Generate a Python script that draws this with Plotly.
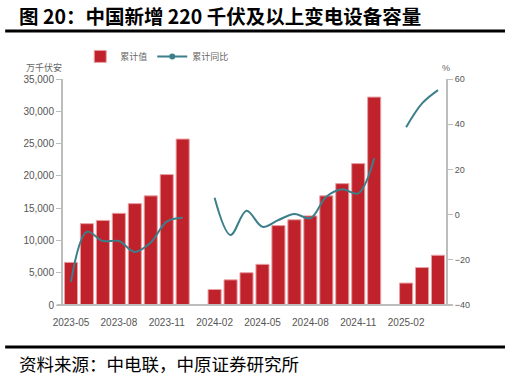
import plotly.graph_objects as go

months = ["2023-05","2023-06","2023-07","2023-08","2023-09","2023-10","2023-11","2023-12",
          "2024-01","2024-02","2024-03","2024-04","2024-05","2024-06","2024-07","2024-08",
          "2024-09","2024-10","2024-11","2024-12","2025-01","2025-02","2025-03","2025-04"]
cum_value = [6600, 12600, 13100, 14200, 15700, 16900, 20200, 25700,
             None, 2400, 3900, 5000, 6300, 12300, 13200, 13800,
             16900, 18800, 21900, 32200, None, 3400, 5800, 7700]
cum_yoy = [-29.7, -7.6, -11.7, -11.7, -16.5, -12.4, -3.1, -1.4,
           None, 7.5, -9.0, 1.7, -5.4, -2.4, 0.3, -1.6,
           7.9, 11.2, 9.4, 24.9, None, 38.6, 49.2, 55.1]
tick_labels = ["2023-05","2023-08","2023-11","2024-02","2024-05","2024-08","2024-11","2025-02"]

RED = "#C0222C"
TEAL = "#3C7F8A"
GRAY = "#BDBDBD"
TXT = "#555555"

fig = go.Figure()
fig.add_trace(go.Bar(x=months, y=cum_value, name="累计值",
                     marker=dict(color=RED, line=dict(color="#E8A0A4", width=1)),
                     yaxis="y"))
fig.add_trace(go.Scatter(x=months, y=cum_yoy, name="累计同比", mode="lines",
                         line=dict(color=TEAL, width=2, shape="spline", smoothing=1.0),
                         connectgaps=False, yaxis="y2", showlegend=False))
# legend entry for the line (line with marker symbol)
fig.add_trace(go.Scatter(x=[None], y=[None], name="累计同比", mode="lines+markers",
                         line=dict(color=TEAL, width=2), marker=dict(color=TEAL, size=6),
                         yaxis="y2"))

fig.update_layout(
    width=511, height=378,
    margin=dict(l=63, r=65, t=79, b=73),
    paper_bgcolor="white", plot_bgcolor="white",
    bargap=0.18,
    font=dict(family="Liberation Sans, Arial, sans-serif", size=10, color=TXT),
    showlegend=True,
    legend=dict(orientation="h", x=0.045, y=1.10, xanchor="left", yanchor="middle",
                font=dict(size=9, color="#666666", family="Noto Sans CJK SC"),
                itemwidth=30, bgcolor="rgba(0,0,0,0)"),
    xaxis=dict(type="category", categoryorder="array", categoryarray=months,
               range=[-0.5, 23.5], tickmode="array", tickvals=tick_labels, ticktext=tick_labels,
               showline=False, showgrid=False, ticks="", ticklabelstandoff=10,
               tickfont=dict(size=10, color=TXT), zeroline=False),
    yaxis=dict(range=[0, 35000], dtick=5000, tickformat=",", showgrid=False,
               showline=True, linecolor=GRAY, linewidth=2, ticks="outside", ticklen=5,
               tickcolor=GRAY, tickfont=dict(size=10, color=TXT), zeroline=False),
    yaxis2=dict(range=[-40, 60], dtick=20, overlaying="y", side="right", showgrid=False,
                showline=True, linecolor=GRAY, linewidth=2, ticks="outside", ticklen=5,
                tickcolor=GRAY, tickfont=dict(size=9, color=TXT), zeroline=False),
)

# x axis baseline extending past the two y axes
fig.add_shape(type="line", xref="paper", yref="paper", x0=-0.016, x1=1.018, y0=0, y1=0,
              line=dict(color=GRAY, width=2))
# title / footer separator lines
fig.add_shape(type="line", xref="paper", yref="paper", x0=-0.151, x1=1.154, y0=1.212, y1=1.212,
              line=dict(color="black", width=3))
fig.add_shape(type="line", xref="paper", yref="paper", x0=-0.151, x1=1.154, y0=-0.186, y1=-0.186,
              line=dict(color="black", width=3))

fig.add_annotation(text="<b>图 20：中国新增 220 千伏及以上变电设备容量</b>", xref="paper", yref="paper",
                   x=-0.12, y=1.279, xanchor="left", yanchor="middle", showarrow=False,
                   font=dict(size=19.5, color="black", family="Noto Sans CJK SC"))
fig.add_annotation(text="资料来源：中电联，中原证券研究所", xref="paper", yref="paper",
                   x=-0.12, y=-0.258, xanchor="left", yanchor="middle", showarrow=False,
                   font=dict(size=17.5, color="black", family="Noto Sans CJK SC"))
fig.add_annotation(text="万千伏安", xref="paper", yref="paper", x=-0.05, y=1.049,
                   xanchor="center", yanchor="middle", showarrow=False,
                   font=dict(size=9, color="#666666", family="Noto Sans CJK SC"))
fig.add_annotation(text="%", xref="paper", yref="paper", x=1.0, y=1.049,
                   xanchor="center", yanchor="middle", showarrow=False,
                   font=dict(size=9, color="#666666"))

fig.write_html("out.html")
